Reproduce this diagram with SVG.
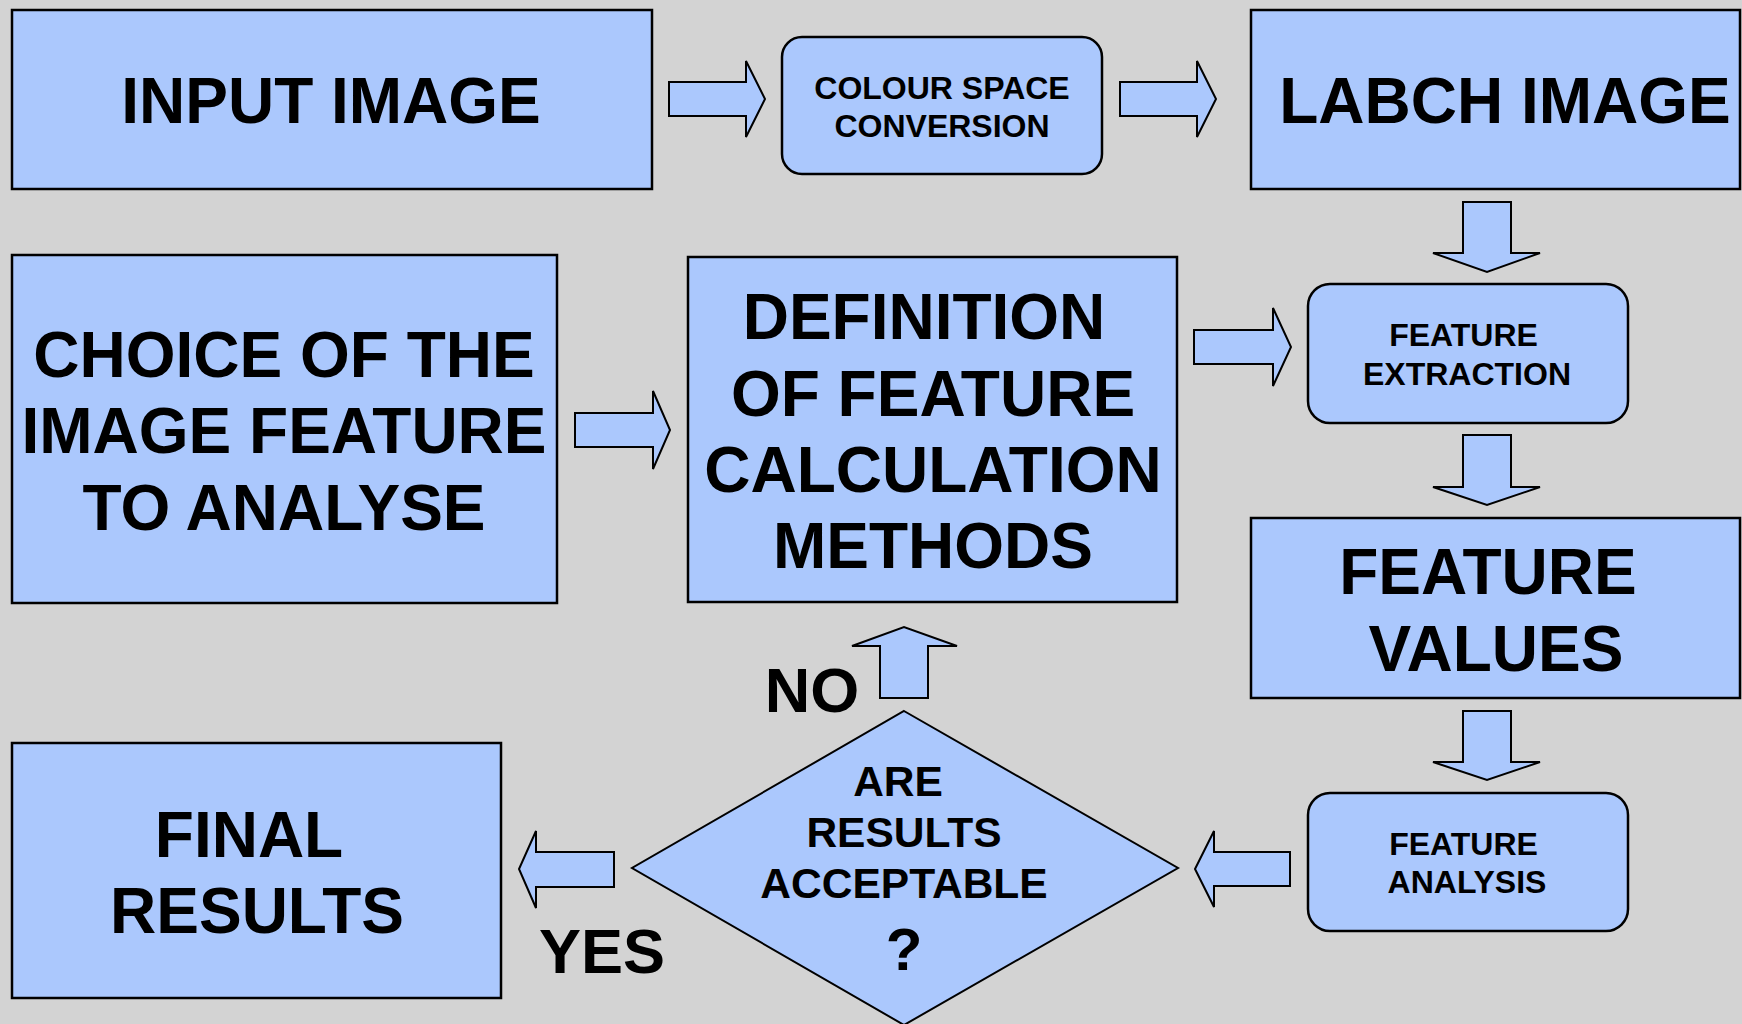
<svg xmlns="http://www.w3.org/2000/svg" width="1742" height="1024" viewBox="0 0 1742 1024">
  <style>
    .box { fill: #abc8fd; stroke: #000; stroke-width: 2.5; }
    .arrow { fill: #abc8fd; stroke: #000; stroke-width: 2; stroke-linejoin: miter; }
    text { font-family: "Liberation Sans", Arial, Helvetica, sans-serif; font-weight: bold; fill: #000; text-anchor: middle; }
    .big { font-size: 64px; }
    .mid { font-size: 32px; }
    .dia { font-size: 42.5px; }
    .q { font-size: 60px; }
    .lbl { font-size: 63px; }
  </style>

  <rect x="0" y="0" width="1742" height="1024" fill="#d3d3d3"/>

  <!-- connectors: block arrows between the steps -->
  <g id="connectors">
    <polygon class="arrow" points="669,82 746,82 746,61 765,99 746,137 746,116 669,116"/>
    <polygon class="arrow" points="1120,82 1197,82 1197,61 1216,99 1197,137 1197,116 1120,116"/>
    <polygon class="arrow" points="575,413 653,413 653,391 670,430 653,469 653,447 575,447"/>
    <polygon class="arrow" points="1194,330 1273,330 1273,308 1291,347 1273,386 1273,364 1194,364"/>
    <polygon class="arrow" points="1463,202 1511,202 1511,253 1540,253 1487,272 1433,253 1463,253"/>
    <polygon class="arrow" points="1463,435 1511,435 1511,487 1540,487 1487,505 1433,487 1463,487"/>
    <polygon class="arrow" points="1463,711 1511,711 1511,762 1540,762 1487,780 1433,762 1463,762"/>
    <polygon class="arrow" points="1290,852 1214,852 1214,831 1195,869 1214,907 1214,886 1290,886"/>
    <polygon class="arrow" points="614,852 536,852 536,831 519,869 536,908 536,887 614,887"/>
    <polygon class="arrow" points="880,698 880,646 852,646 904,627 957,646 928,646 928,698"/>
  </g>

  <g id="input-image">
    <rect class="box" x="12" y="10" width="640" height="179"/>
    <text class="big" x="331" y="123">INPUT IMAGE</text>
  </g>

  <g id="colour-space-conversion">
    <rect class="box" x="782" y="37" width="320" height="137" rx="20" ry="20"/>
    <text class="mid" x="942" y="99">COLOUR SPACE</text>
    <text class="mid" x="942" y="137">CONVERSION</text>
  </g>

  <g id="labch-image">
    <rect class="box" x="1251" y="10" width="489" height="179"/>
    <text class="big" x="1505" y="123">LABCH IMAGE</text>
  </g>

  <g id="choice-of-feature">
    <rect class="box" x="12" y="255" width="545" height="348"/>
    <text class="big" x="284" y="377">CHOICE OF THE</text>
    <text class="big" x="284" y="453">IMAGE FEATURE</text>
    <text class="big" x="284" y="530">TO ANALYSE</text>
  </g>

  <g id="definition-of-methods">
    <rect class="box" x="688" y="257" width="489" height="345"/>
    <text class="big" x="924" y="339">DEFINITION</text>
    <text class="big" x="933" y="416">OF FEATURE</text>
    <text class="big" x="933" y="492">CALCULATION</text>
    <text class="big" x="933" y="568">METHODS</text>
  </g>

  <g id="feature-extraction">
    <rect class="box" x="1308" y="284" width="320" height="139" rx="22" ry="22"/>
    <text class="mid" x="1463.5" y="346">FEATURE</text>
    <text class="mid" x="1467" y="385">EXTRACTION</text>
  </g>

  <g id="feature-values">
    <rect class="box" x="1251" y="518" width="489" height="180"/>
    <text class="big" x="1488" y="594">FEATURE</text>
    <text class="big" x="1496" y="671">VALUES</text>
  </g>

  <g id="feature-analysis">
    <rect class="box" x="1308" y="793" width="320" height="138" rx="22" ry="22"/>
    <text class="mid" x="1463.5" y="855">FEATURE</text>
    <text class="mid" x="1467" y="893">ANALYSIS</text>
  </g>

  <g id="results-decision">
    <polygon class="arrow" points="904,711 1178,868 904,1025 632,868"/>
    <text class="dia" x="898" y="796">ARE</text>
    <text class="dia" x="904" y="847">RESULTS</text>
    <text class="dia" x="904" y="898">ACCEPTABLE</text>
    <text class="q" x="904" y="970">?</text>
  </g>

  <g id="final-results">
    <rect class="box" x="12" y="743" width="489" height="255"/>
    <text class="big" x="249" y="857">FINAL</text>
    <text class="big" x="257" y="933">RESULTS</text>
  </g>

  <g id="branch-labels">
    <text class="lbl" x="812" y="712">NO</text>
    <text class="lbl" x="602" y="973">YES</text>
  </g>
</svg>
